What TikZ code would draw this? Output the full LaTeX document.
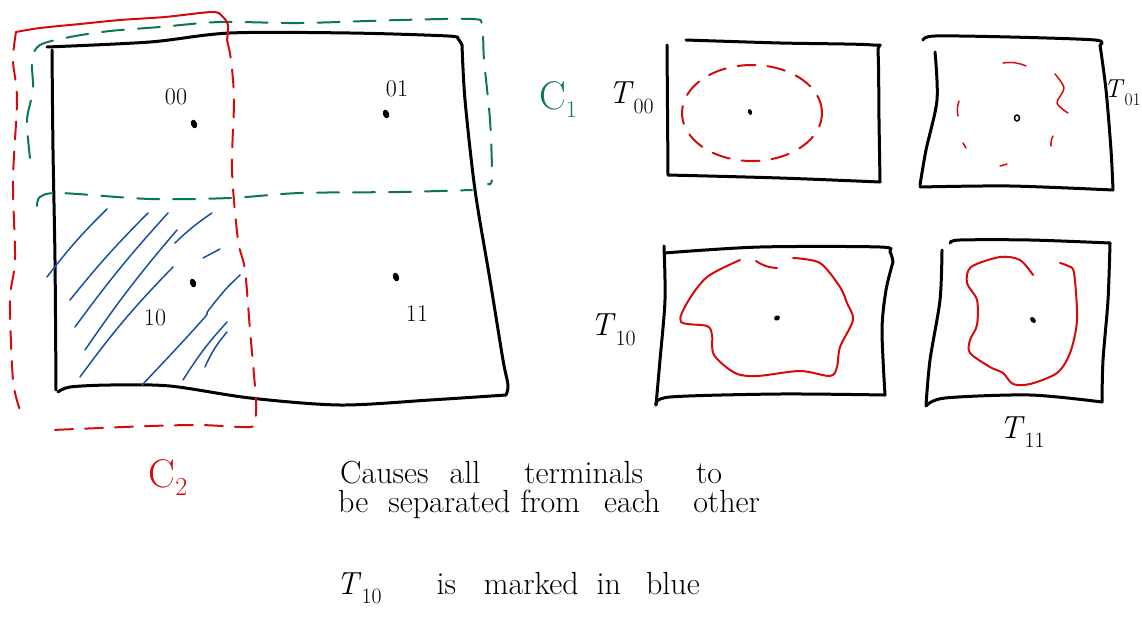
\documentclass[tikz,border=0pt]{standalone}
\usepackage{fontspec}
\usetikzlibrary{shapes.geometric}
\definecolor{penred}{RGB}{214,10,10}
\definecolor{pengreen}{RGB}{10,120,85}
\definecolor{penblue}{RGB}{25,80,160}
% a terminal name: italic T with a lowered index
\newcommand{\tlab}[1]{\textit{T}\raisebox{-0.3em}{\scalebox{0.68}{#1}}}
\begin{document}
\begin{tikzpicture}[x=1pt,y=-1pt,
  ink/.style={line width=3pt,line cap=round,line join=round},
  redink/.style={draw=penred,line width=2pt,line cap=round,line join=round},
  reddash/.style={redink,dash pattern=on 18pt off 12pt},
  greendash/.style={draw=pengreen,line width=2pt,line cap=round,line join=round,dash pattern=on 22pt off 14pt},
  hatch/.style={draw=penblue,line width=1.5pt,line cap=round},
  terminal/.style={fill=black,ellipse,inner sep=0pt,minimum width=6pt,minimum height=9pt,rotate=20},
  tag/.style={font=\fontsize{24}{24}\selectfont,inner sep=0pt},
  tname/.style={font=\fontsize{32}{32}\selectfont,inner sep=0pt},
  note/.style={font=\fontsize{32}{32}\selectfont,inner sep=0pt,anchor=base west}]
\useasboundingbox (0,0) rectangle (1142,621);

% ---------- grid of four cells ----------
\draw[ink] plot[smooth] coordinates {(47,47)(150,42)(230,33)(350,33)(448,36)(458,39)(462,45)};
\draw[ink] plot[smooth] coordinates {(462,45)(465,100)(475,190)(490,280)(503,360)(508,385)(506,395)};
\draw[ink] plot[smooth] coordinates {(506,395)(430,400)(340,405)(250,398)(170,386)(110,385)(70,387)(58,392)};
\draw[ink] plot[smooth] coordinates {(52,50)(53,150)(55,260)(56,390)};

% cluster C1 (top row)
\draw[greendash] plot[smooth] coordinates {(30,158)(27,120)(33,90)(32,60)(40,45)(70,37)(110,31)(160,27)(220,22)(300,23)(400,20)(472,19)(482,25)(484,60)(490,120)(492,178)(488,184)};
\draw[greendash] plot[smooth] coordinates {(37,206)(40,197)(60,193)(150,199)(230,198)(300,193)(400,192)(472,190)};

% cluster C2 (left column)
\draw[redink] plot[smooth] coordinates {(16,32)(40,28)(80,24)(120,20)(165,17)(212,12)(222,16)(228,25)(227,40)};
\draw[reddash] plot[smooth] coordinates {(227,40)(231,60)(234,100)(232,170)(238,240)(245,270)(250,330)(256,400)(255,420)(250,427)(200,425)(150,426)(100,428)(52,430)};
\draw[reddash] plot[smooth] coordinates {(16,32)(13,60)(17,100)(13,180)(15,260)(10,300)(13,380)(20,410)};

% hatching of cell 10
\draw[hatch] (47,277) to[bend left=4] (107,209);
\draw[hatch] (70,300) to[bend left=3] (148,213);
\draw[hatch] (75,327) to[bend left=3] (168,213);
\draw[hatch] (85,350) to[bend left=3] (177,230);
\draw[hatch] (80,377) to[bend left=4] (173,267);
\draw[hatch] (175,243) to[bend left=5] (212,213);
\draw[hatch] (203,258) to (220,249);
\draw[hatch] plot[smooth] coordinates {(142,385)(175,350)(205,317)(208,311)(225,290)(240,275)};
\draw[hatch] (183,380) to[bend left=5] (227,322);
\draw[hatch] (205,367) to[bend left=8] (227,332);

% terminals and their labels
\node[terminal] (d00) at (194,124) {};
\node[terminal] (d01) at (386,114) {};
\node[terminal] (d10) at (193,283) {};
\node[terminal] (d11) at (396,277) {};
\node[tag] (l00) at (176,97) {00};
\node[tag] (l01) at (397,89) {01};
\node[tag] (l10) at (155,318) {10};
\node[tag] (l11) at (417,314) {11};

% cluster names
\node[text=pengreen,font=\fontsize{40}{40}\selectfont,inner sep=0pt] (c1) at (558,100) {C\raisebox{-8pt}{\fontsize{24}{24}\selectfont 1}};
\node[text=penred,font=\fontsize{40}{40}\selectfont,inner sep=0pt] (c2) at (168,478) {C\raisebox{-8pt}{\fontsize{26}{26}\selectfont 2}};

% ---------- T00 ----------
\draw[ink] (667,45) -- (668,175);
\draw[ink] plot[smooth] coordinates {(686,40)(780,43)(873,45)(878,52)(879,120)(880,182)};
\draw[ink] plot[smooth] coordinates {(668,175)(780,178)(880,182)};
\draw[reddash] (752,113) ellipse [x radius=70pt,y radius=48pt];
\node[terminal,minimum width=4pt,minimum height=6pt] (d00b) at (750,112) {};
\node[tname] (t00) at (631,98) {\tlab{00}};

% ---------- T01 ----------
\draw[ink] plot[smooth] coordinates {(923,40)(935,36)(1010,37)(1095,40)(1100,45)};
\draw[ink] plot[smooth] coordinates {(1100,45)(1106,90)(1111,150)(1113,190)};
\draw[ink] plot[smooth] coordinates {(920,187)(1010,186)(1113,190)};
\draw[ink] plot[smooth] coordinates {(935,52)(937,100)(926,150)(920,185)};
\draw[redink,line width=1.5pt] (1003,63) to[bend left=15] (1026,66);
\draw[redink,line width=1.5pt] plot[smooth] coordinates {(1055,74)(1064,88)(1057,103)(1068,113)};
\draw[redink,line width=1.5pt] (959,101) to[bend right=15] (958,116);
\draw[redink,line width=1.5pt] (963,143) to[bend right=15] (966,148);
\draw[redink,line width=1.5pt] (1000,166) -- (1007,164);
\draw[redink,line width=1.5pt] (1053,136) to[bend right=15] (1051,146);
\node[draw,ellipse,line width=1.5pt,inner sep=0pt,minimum width=5pt,minimum height=6pt] (d01b) at (1017,118) {};
\node[tname,font=\fontsize{26}{26}\selectfont,anchor=east] (t01) at (1141,93) {\tlab{01}};

% ---------- T10 ----------
\draw[ink] plot[smooth] coordinates {(664,253)(760,247)(880,247)(890,252)(893,262)};
\draw[ink] plot[smooth] coordinates {(893,262)(886,290)(882,330)(885,395)};
\draw[ink] plot[smooth] coordinates {(656,405)(670,397)(780,394)(885,395)};
\draw[ink] plot[smooth] coordinates {(664,246)(665,300)(660,360)(656,405)};
\draw[redink] plot[smooth] coordinates {(740,260)(707,277)(687,303)(681,322)(707,326)(712,335)(714,355)(735,373)(757,376)(800,371)(830,376)(837,367)(840,347)(853,320)(847,303)(840,287)(820,263)(793,258)};
\draw[redink] (756,261) to[bend right=15] (777,268);
\node[terminal,minimum width=6pt,minimum height=5pt] (d10b) at (777,318) {};
\node[tname] (t10) at (613,330) {\tlab{10}};

% ---------- T11 ----------
\draw[ink] plot[smooth] coordinates {(950,243)(960,240)(1030,240)(1110,243)};
\draw[ink] plot[smooth] coordinates {(1110,243)(1108,300)(1103,360)(1102,402)};
\draw[ink] plot[smooth] coordinates {(926,406)(945,398)(1030,395)(1102,402)};
\draw[ink] plot[smooth] coordinates {(942,250)(940,300)(930,360)(926,405)};
\draw[redink] plot[smooth] coordinates {(1033,275)(1020,260)(1000,257)(971,267)(967,283)(977,300)(977,325)(970,340)(970,353)(990,367)(1003,373)(1013,384)(1030,384)(1057,373)(1070,353)(1077,320)(1074,273)(1068,266)(1060,263)};
\node[terminal,minimum width=4.5pt,minimum height=7pt,rotate=20] (d11b) at (1033,320) {};
\node[tname] (t11) at (1022,432) {\tlab{11}};

% ---------- notes ----------
\node[note] (n1) at (340,483) {Causes\hspace{21pt}all\hspace{44pt}terminals\hspace{53pt}to};
\node[note] (n2) at (338,512) {be\hspace{20pt}separated\hspace{10pt}from\hspace{24pt}each\hspace{33pt}other};
\node[note] (n3) at (336,594) {\tlab{10}\hspace{55pt}is\hspace{28pt}marked\hspace{18pt}in\hspace{25pt}blue};
\end{tikzpicture}
\end{document}
